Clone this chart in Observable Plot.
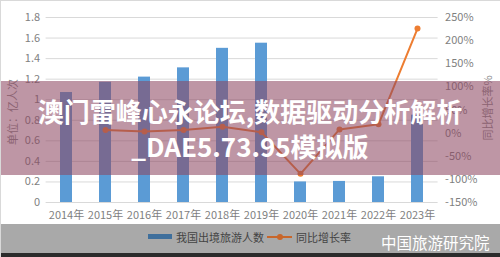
<!DOCTYPE html>
<html><head><meta charset="utf-8">
<script src="https://cdn.jsdelivr.net/npm/d3@7"></script>
<script src="https://cdn.jsdelivr.net/npm/@observablehq/plot@0.6"></script>
<style>
body{margin:0;background:#fff;}
#wrap{position:relative;width:500px;height:257px;overflow:hidden;font-family:'Noto Sans CJK SC','Noto Sans',sans-serif;background:#fff;}
#wrap svg{position:absolute;left:0;top:0;}
.abs{position:absolute;white-space:nowrap;}
.axt{font-size:11px;color:#8a8a8a;transform:translate(-50%,-50%) rotate(-90deg);}
#band{left:0;top:81px;width:500px;height:94px;background:rgba(141,71,97,0.57);}
.ttl{left:0;width:500px;text-align:center;color:#fff;font-weight:700;font-size:26px;line-height:30px;}
#strip{left:0;top:224px;width:500px;height:30px;background:#a9a9a9;}
#bottom{left:0;top:253px;width:500px;height:4px;background:#2b2b2b;}
.leg{font-size:11px;color:#444;top:237px;transform:translateY(-50%);}
#src{left:381px;top:242px;transform:translateY(-50%);font-size:15.5px;color:#fff;font-weight:400;}
#border{left:0;top:0;width:500px;height:257px;box-sizing:border-box;border-top:1px solid #d9d9d9;border-left:1px solid #d9d9d9;}
</style></head><body><div id="wrap"></div>
<script>
const years = ["2014","2015","2016","2017","2018","2019","2020","2021","2022","2023"];
const tourists = [1.07,1.17,1.22,1.31,1.50,1.55,0.20,0.205,0.25,0.85];
const growthYears = ["2015","2016","2017","2018","2019","2020","2021","2022","2023"];
const growth = [7,3.5,7,14,2,-88,8,19,226];
const leftTicks = [0,0.2,0.4,0.6,0.8,1,1.2,1.4,1.6,1.8];
const rightTicks = [-150,-100,-50,0,50,100,150,200,250];
const seriesNames = ["我国出境旅游人数","同比增长率"];

const toLeft = p => (p + 150) / 400 * 1.8;
const fromLeft = v => Math.round(v / 1.8 * 400 - 150);

const barData = years.map((y, i) => ({year: y, value: tourists[i]}));
const lineData = growthYears.map((y, i) => ({year: y, value: toLeft(growth[i])}));

const chart = Plot.plot({
  width: 500, height: 224,
  marginLeft: 45.6, marginRight: 62.4, marginTop: 17, marginBottom: 22,
  style: {fontFamily: "'Noto Sans CJK SC','Noto Sans',sans-serif", fontSize: "11px", color: "#7f7f7f", background: "transparent"},
  x: {domain: years, paddingInner: 0.7, paddingOuter: 0.35, label: null, axis: null},
  y: {domain: [0, 1.8], label: null, axis: null},
  marks: [
    Plot.gridY(leftTicks, {stroke: "#d9d9d9", strokeOpacity: 1}),
    Plot.barY(barData, {x: "year", y: "value", fill: "#5B9BD5"}),
    Plot.line(lineData, {x: "year", y: "value", stroke: "#ED7D31", strokeWidth: 2}),
    Plot.dot(lineData, {x: "year", y: "value", r: 3, fill: "#ED7D31", stroke: "none"}),
    Plot.axisX({tickSize: 0, tickPadding: 9, tickFormat: d => d + "年", label: null}),
    Plot.axisY(leftTicks, {anchor: "left", tickSize: 0, tickPadding: 6, tickFormat: d => String(+d.toFixed(1)), label: null}),
    Plot.axisY(rightTicks.map(toLeft), {anchor: "right", tickSize: 0, tickPadding: 7, tickFormat: d => fromLeft(d) + "%", label: null})
  ]
});

const wrap = document.getElementById("wrap");
wrap.appendChild(chart);
function add(html){ wrap.insertAdjacentHTML("beforeend", html); }
add(`<div class="abs axt" style="left:12px;top:112px;">单位：亿人次</div>`);
add(`<div class="abs axt" style="left:487px;top:108px;">同比增长率%</div>`);
add(`<div class="abs" id="band"></div>`);
add(`<div class="abs ttl" style="top:96px;">澳门雷峰心永论坛,数据驱动分析解析</div>`);
add(`<div class="abs ttl" style="top:131px;">_DAE5.73.95模拟版</div>`);
add(`<div class="abs" id="strip"></div>`);
add(`<div class="abs" id="bottom"></div>`);
add(`<div class="abs" style="left:148px;top:234px;width:24px;height:5px;background:#3f6f9c;"></div>`);
add(`<div class="abs leg" style="left:176px;">${seriesNames[0]}</div>`);
add(`<div class="abs" style="left:267px;top:236px;width:25px;height:2px;background:#c8662a;"></div>`);
add(`<div class="abs" style="left:277px;top:234px;width:6px;height:6px;border-radius:50%;background:#c8662a;"></div>`);
add(`<div class="abs leg" style="left:296px;">${seriesNames[1]}</div>`);
add(`<div class="abs" id="src">中国旅游研究院</div>`);
add(`<div class="abs" id="border"></div>`);
</script></body></html>
